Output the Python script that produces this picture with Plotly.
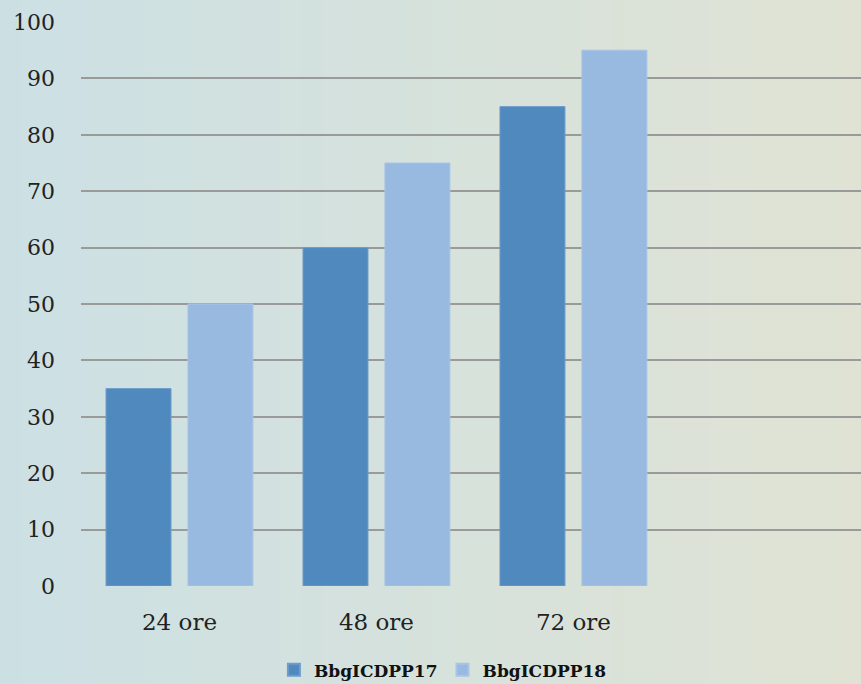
import plotly.graph_objects as go

categories = ["24 ore", "48 ore", "72 ore", " "]
series_names = ["BbgICDPP17", "BbgICDPP18"]
values_17 = [35, 60, 85, None]
values_18 = [50, 75, 95, None]
y_ticks = [0, 10, 20, 30, 40, 50, 60, 70, 80, 90, 100]

colors = ["#4F89BE", "#98B9E0"]
line_colors = ["#6E9CCB", "#A9C4E6"]
FONT = "DejaVu Serif"

fig = go.Figure()
for name, vals, c, lc in zip(series_names, [values_17, values_18], colors, line_colors):
    fig.add_trace(go.Bar(x=categories, y=vals, name=name,
                         marker=dict(color=c, line=dict(color=lc, width=1))))

# background gradient (decorative)
left = (204, 224, 228)
right = (224, 227, 212)
N = 80
x_start, x_end = -81 / 780, 1.0
shapes = []
for i in range(N):
    t = i / (N - 1)
    col = tuple(round(left[k] + (right[k] - left[k]) * t) for k in range(3))
    x0 = x_start + (x_end - x_start) * i / N
    x1 = x_start + (x_end - x_start) * (i + 1) / N + 0.002
    shapes.append(dict(type="rect", xref="paper", yref="paper",
                       x0=x0, x1=x1, y0=-0.25, y1=1.1,
                       fillcolor="rgb(%d,%d,%d)" % col, line=dict(width=0),
                       layer="below"))

fig.update_layout(
    width=861, height=684,
    margin=dict(l=81, r=0, t=22, b=98, autoexpand=False),
    paper_bgcolor="rgb(214,226,222)",
    plot_bgcolor="rgba(0,0,0,0)",
    shapes=shapes,
    barmode="group",
    bargap=0.168,
    bargroupgap=0.207,
    font=dict(family=FONT, color="#222222"),
    showlegend=True,
    legend=dict(orientation="h", x=0.464, xanchor="center",
                yref="container", y=0.02, yanchor="middle",
                font=dict(family=FONT, size=17, color="#111111", weight="bold"),
                bgcolor="rgba(0,0,0,0)", itemsizing="constant"),
    xaxis=dict(range=[-0.5, 3.46], showgrid=False, zeroline=False, showline=False,
               ticks="", tickfont=dict(size=23, family=FONT), ticklabelstandoff=20,
               fixedrange=True, automargin=False),
    yaxis=dict(range=[0, 100], tickvals=y_ticks, showgrid=True, gridcolor="#9A9A9A",
               gridwidth=1.5, zeroline=False, showline=False, ticks="",
               tickfont=dict(size=22, family=FONT), ticklabelstandoff=25,
               fixedrange=True, automargin=False),
)

fig.write_html("out.html")
